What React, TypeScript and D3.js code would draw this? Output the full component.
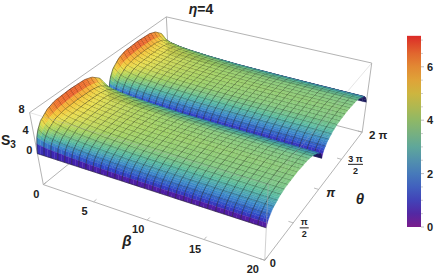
import React, { useRef, useEffect } from "react";
import * as d3 from "d3";

const WIDTH = 436;
const HEIGHT = 278;
const FONT = "'Liberation Sans', Arial, sans-serif";

// axis ranges
const betaRange = [0, 20];
const thetaRange = [0, 2 * Math.PI];
const zRange = [-6.5, 8];
const colorRange = [0, 7.16];

// S3, one hump only (the surface repeats every pi and each hump is symmetric)
const humpFractions = [0, 0.02, 0.05, 0.1, 0.2, 0.3, 0.5];
const betaRows = [0, 0.3, 0.7, 1.2, 2, 3, 5, 8, 12, 16, 20];
const s3Beta0 = [0, 2.6, 4.0, 5.3, 6.5, 7.0, 7.16];
const s3Beta03 = [0, 2.4, 3.5, 4.6, 5.6, 6.0, 6.2];
const s3Beta07 = [0, 2.2, 3.1, 4.0, 5.0, 5.35, 5.5];
const s3Beta12 = [0, 2.0, 2.9, 3.75, 4.7, 5.0, 5.1];
const s3Beta2 = [0, 1.85, 2.65, 3.45, 4.35, 4.75, 4.85];
const s3Beta3 = [0, 1.65, 2.45, 3.2, 4.1, 4.5, 4.6];
const s3Beta5 = [0, 1.4, 2.15, 2.9, 3.75, 4.15, 4.3];
const s3Beta8 = [0, 1.2, 1.9, 2.6, 3.45, 3.85, 4.0];
const s3Beta12b = [0, 1.1, 1.75, 2.45, 3.25, 3.65, 3.85];
const s3Beta16 = [0, 1.05, 1.7, 2.35, 3.15, 3.55, 3.75];
const s3Beta20 = [0, 1.0, 1.6, 2.3, 3.05, 3.45, 3.65];
const s3Rows = [s3Beta0, s3Beta03, s3Beta07, s3Beta12, s3Beta2, s3Beta3, s3Beta5, s3Beta8, s3Beta12b, s3Beta16, s3Beta20];

// colour bar stops, the lit surface uses the same stops a bit stronger
const colorStops = [0, 0.6, 1.2, 2.2, 3, 4, 4.9, 5.5, 6.3, 7.16];
const colorValues = ["#7a1c8c", "#4b2aa8", "#3d50c0", "#4a84b8", "#5fa79a", "#8fb866", "#c9b840", "#dfa338", "#e37a30", "#dc2a28"];
const surfaceValues = ["#6a1490", "#3f22b0", "#2f48c8", "#3a88c8", "#55b8a0", "#a0d060", "#e8dc48", "#f5c030", "#f08028", "#e02820"];

const betaTicks = [0, 5, 10, 15, 20];
const thetaTicks = [0, Math.PI / 2, Math.PI, 1.5 * Math.PI, 2 * Math.PI];
const zTicks = [0, 4, 8];
const colorTicks = [0, 2, 4, 6];
const colorMinorTicks = [0.5, 1, 1.5, 2.5, 3, 3.5, 4.5, 5, 5.5, 6.5, 7];

// box corners on screen: [u(beta), v(theta), w(z), x, y]
const boxCorners = [
  [0, 0, 0, 43, 184],
  [1, 0, 0, 265, 261],
  [1, 1, 0, 362, 131],
  [0, 1, 0, 170, 83],
  [0, 0, 1, 30, 113],
  [1, 0, 1, 268, 184],
  [1, 1, 1, 372, 64],
  [0, 1, 1, 166, 16],
];

// least squares fit of the camera (3x4 matrix with last entry 1)
function fitCamera(points: number[][]) {
  const rows: number[][] = [];
  const rhs: number[] = [];
  points.forEach(([u, v, w, x, y]) => {
    rows.push([u, v, w, 1, 0, 0, 0, 0, -x * u, -x * v, -x * w]);
    rhs.push(x);
    rows.push([0, 0, 0, 0, u, v, w, 1, -y * u, -y * v, -y * w]);
    rhs.push(y);
  });
  const n = 11;
  const a = d3.range(n).map((i) =>
    d3.range(n + 1).map((j) =>
      j < n ? d3.sum(rows, (r) => r[i] * r[j]) : d3.sum(rows, (r, k) => r[i] * rhs[k])
    )
  );
  for (let i = 0; i < n; i++) {
    let p = i;
    for (let k = i + 1; k < n; k++) if (Math.abs(a[k][i]) > Math.abs(a[p][i])) p = k;
    [a[i], a[p]] = [a[p], a[i]];
    for (let k = 0; k < n; k++) {
      if (k === i) continue;
      const f = a[k][i] / a[i][i];
      for (let j = i; j <= n; j++) a[k][j] -= f * a[i][j];
    }
  }
  return a.map((r, i) => r[n] / r[i]);
}

const cam = fitCamera(boxCorners);
const uScale = d3.scaleLinear().domain(betaRange).range([0, 1]);
const vScale = d3.scaleLinear().domain(thetaRange).range([0, 1]);
const wScale = d3.scaleLinear().domain(zRange).range([0, 1]);

function project(beta: number, theta: number, z: number): [number, number] {
  const u = uScale(beta);
  const v = vScale(theta);
  const w = wScale(z);
  const d = cam[8] * u + cam[9] * v + cam[10] * w + 1;
  return [
    (cam[0] * u + cam[1] * v + cam[2] * w + cam[3]) / d,
    (cam[4] * u + cam[5] * v + cam[6] * w + cam[7]) / d,
  ];
}

const columnScales = humpFractions.map((_, c) =>
  d3.scaleLinear().domain(betaRows).range(s3Rows.map((r) => r[c]))
);

function s3(beta: number, theta: number) {
  const t = ((theta / Math.PI) % 1 + 1) % 1;
  const f = Math.min(t, 1 - t);
  const column = humpFractions.map((_, c) => columnScales[c](beta));
  return d3.scaleLinear().domain(humpFractions).range(column)(f);
}

const colorScale = d3.scaleLinear<string>().domain(colorStops).range(colorValues).clamp(true);
const surfaceScale = d3.scaleLinear<string>().domain(colorStops).range(surfaceValues).clamp(true);

const BETA_CELLS = 30;
const THETA_CELLS = 36;
const BETA_SUB = 2;
const THETA_SUB = 4;

export default function App() {
  const ref = useRef<SVGGElement>(null);

  useEffect(() => {
    const g = d3.select(ref.current);
    g.selectAll("*").remove();
    const betaAt = d3.scaleLinear().domain([0, BETA_CELLS * BETA_SUB]).range(betaRange);
    const thetaAt = d3.scaleLinear().domain([0, THETA_CELLS * THETA_SUB]).range(thetaRange);
    const line = d3.line();

    // far cells first
    for (let j = THETA_CELLS * THETA_SUB - 1; j >= 0; j--) {
      for (let i = 0; i < BETA_CELLS * BETA_SUB; i++) {
        const b0 = betaAt(i);
        const b1 = betaAt(i + 1);
        const t0 = thetaAt(j);
        const t1 = thetaAt(j + 1);
        const z00 = s3(b0, t0);
        const z10 = s3(b1, t0);
        const z11 = s3(b1, t1);
        const z01 = s3(b0, t1);
        const p00 = project(b0, t0, z00);
        const p10 = project(b1, t0, z10);
        const p11 = project(b1, t1, z11);
        const p01 = project(b0, t1, z01);
        const back = d3.polygonArea([p00, p10, p11, p01]) < 0;
        const fill = back ? "#1c1a5c" : surfaceScale((z00 + z10 + z11 + z01) / 4);
        g.append("path")
          .attr("d", line([p00, p10, p11, p01])! + "Z")
          .attr("fill", fill)
          .attr("stroke", fill)
          .attr("stroke-width", 0.3);
        // mesh lines along the far edge and the left edge of the cell
        const segs: [number, number][][] = [];
        if (j % THETA_SUB === 0) segs.push([p00, p10]);
        if (i % BETA_SUB === 0) segs.push([p00, p01]);
        if (segs.length && !back) {
          g.append("path")
            .attr("d", segs.map((s) => line(s)).join(""))
            .attr("fill", "none")
            .attr("stroke", "#1a1a1a")
            .attr("stroke-opacity", 0.7)
            .attr("stroke-width", 0.75);
        }
      }
    }
  }, []);

  const corner = (c: number) => {
    const k = boxCorners[c];
    return project(betaRange[k[0]], thetaRange[k[1]], zRange[k[2]]);
  };
  const edge = (a: number, b: number, op: number) => {
    const [x1, y1] = corner(a);
    const [x2, y2] = corner(b);
    return <line key={`${a}-${b}`} x1={x1} y1={y1} x2={x2} y2={y2} stroke="#aaa" strokeOpacity={op} strokeWidth={0.9} />;
  };

  const barY = d3.scaleLinear().domain([0, 2]).range([227, 173.6]);
  const barStops = d3.range(0, 7.17, 0.5);
  const labelStyle = { fontFamily: FONT, fontSize: 11, fontWeight: 700, fill: "#222" };

  const fraction = (x: number, y: number, top: string) => (
    <g key={top}>
      <text x={x} y={y - 2.5} textAnchor="middle" style={{ ...labelStyle, fontSize: 9 }}>{top}</text>
      <line x1={x - (top.length > 1 ? 7.5 : 4.5)} x2={x + (top.length > 1 ? 7.5 : 4.5)} y1={y} y2={y} stroke="#222" strokeWidth={1} />
      <text x={x} y={y + 9.5} textAnchor="middle" style={{ ...labelStyle, fontSize: 9 }}>2</text>
    </g>
  );

  return (
    <svg width={WIDTH} height={HEIGHT} style={{ position: "absolute", left: 0, top: 0, background: "#fff" }}>
      <defs>
        <linearGradient id="bar" x1="0" x2="0" y1="1" y2="0">
          {barStops.map((v) => (
            <stop key={v} offset={v / colorRange[1]} stopColor={colorScale(v)} />
          ))}
          <stop offset={1} stopColor={colorScale(colorRange[1])} />
        </linearGradient>
      </defs>

      {edge(0, 1, 1)}
      {edge(1, 2, 1)}
      {edge(2, 3, 1)}
      {edge(3, 0, 1)}
      {edge(0, 4, 1)}
      {edge(3, 7, 1)}
      {edge(2, 6, 1)}
      {edge(4, 7, 1)}
      {edge(7, 6, 1)}

      {betaTicks.map((b) => {
        const [x1, y1] = project(b, 0, zRange[0]);
        const [x2, y2] = project(b, 0.12, zRange[0]);
        return <line key={b} x1={x1} y1={y1} x2={x2} y2={y2} stroke="#aaa" strokeWidth={0.8} />;
      })}
      {thetaTicks.map((t) => {
        const [x1, y1] = project(20, t, zRange[0]);
        const [x2, y2] = project(19.6, t, zRange[0]);
        return <line key={t} x1={x1} y1={y1} x2={x2} y2={y2} stroke="#aaa" strokeWidth={0.8} />;
      })}

      <g ref={ref} />

      {edge(4, 5, 0.35)}
      {edge(5, 1, 0.6)}
      {edge(5, 6, 0.35)}

      {zTicks.map((z) => {
        const [x, y] = project(0, 0, z);
        return <text key={z} x={x - 8} y={y} textAnchor="middle" style={labelStyle}>{z}</text>;
      })}
      {betaTicks.map((b) => {
        const [x, y] = project(b, 0, zRange[0]);
        const dx = b === 0 ? -7 : b === 20 ? -12 : -9;
        return <text key={b} x={x + dx} y={y + 13} textAnchor="middle" style={labelStyle}>{b}</text>;
      })}
      {(() => {
        const at = (t: number) => project(20, t, zRange[0]);
        const [x0, y0] = at(thetaTicks[0]);
        const [x1, y1] = at(thetaTicks[1]);
        const [x2, y2] = at(thetaTicks[2]);
        const [x3, y3] = at(thetaTicks[3]);
        const [x4, y4] = at(thetaTicks[4]);
        return (
          <g>
            <text x={x0 + 8} y={y0 + 7} textAnchor="middle" style={labelStyle}>0</text>
            {fraction(x1 + 11, y1 + 5, "π")}
            <text x={x2 + 12} y={y2 + 8} textAnchor="middle" style={{ ...labelStyle, fontSize: 12.5, fontStyle: "italic" }}>π</text>
            {fraction(x3 + 14, y3 + 5, "3 π")}
            <text x={x4 + 16} y={y4 + 7} textAnchor="middle" style={{ ...labelStyle, fontSize: 11.5 }}>2 π</text>
          </g>
        );
      })()}

      <text x={1} y={145} style={{ ...labelStyle, fontSize: 14 }}>S<tspan dy={3} fontSize={10}>3</tspan></text>
      <text x={127} y={246} textAnchor="middle" style={{ ...labelStyle, fontSize: 15, fontStyle: "italic" }}>β</text>
      <text x={360} y={204} textAnchor="middle" style={{ ...labelStyle, fontSize: 15, fontStyle: "italic" }}>θ</text>
      <text x={201} y={14} textAnchor="middle" style={{ ...labelStyle, fontSize: 14 }}>
        <tspan fontStyle="italic">η</tspan>=4
      </text>

      <rect x={407} y={barY(colorRange[1])} width={14} height={barY(0) - barY(colorRange[1])} fill="url(#bar)" />
      {colorMinorTicks.map((v) => (
        <line key={v} x1={421} x2={423} y1={barY(v)} y2={barY(v)} stroke="#bbb" strokeWidth={0.7} />
      ))}
      {colorTicks.map((v) => (
        <g key={v}>
          <line x1={421} x2={424} y1={barY(v)} y2={barY(v)} stroke="#aaa" strokeWidth={0.8} />
          <text x={430} y={barY(v) + 4} textAnchor="middle" style={labelStyle}>{v}</text>
        </g>
      ))}
    </svg>
  );
}
